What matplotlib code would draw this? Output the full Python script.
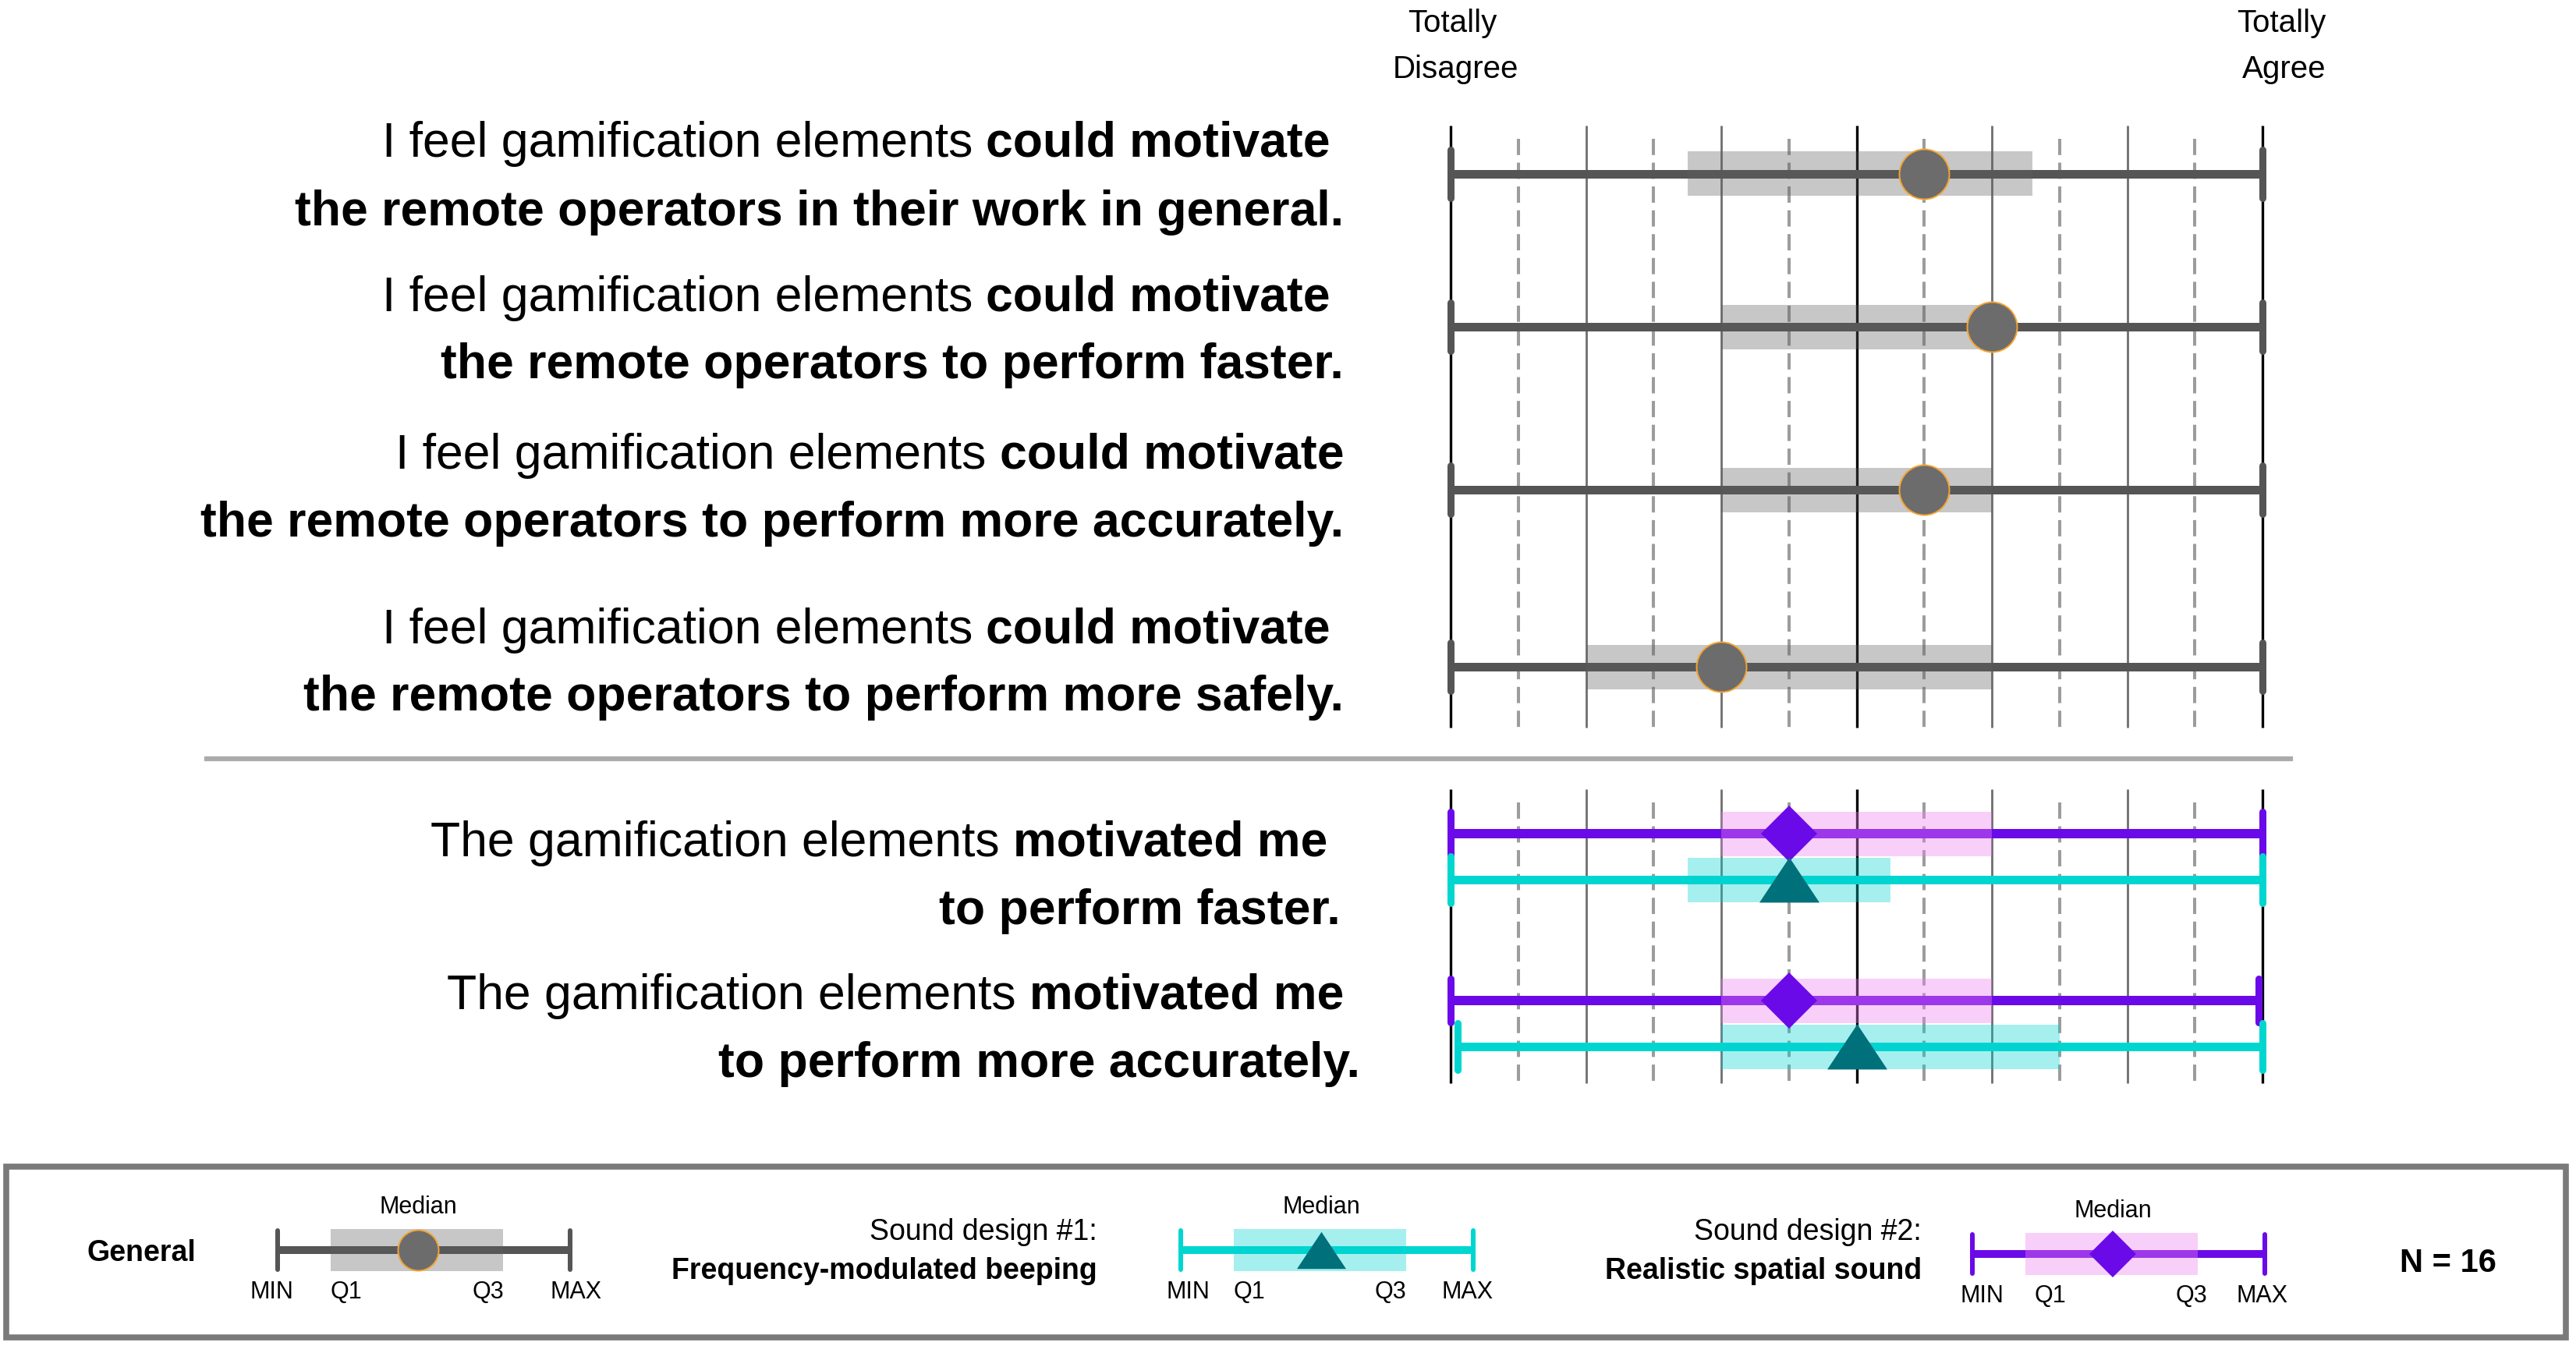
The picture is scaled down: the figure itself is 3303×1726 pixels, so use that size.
import matplotlib.pyplot as plt
from matplotlib.patches import Rectangle

plt.rcParams['font.family'] = ['Liberation Sans', 'DejaVu Sans']
plt.rcParams['lines.scale_dashes'] = False

# Likert answers, 1 = Totally Disagree ... 7 = Totally Agree (N = 16)
general_bold = 'could motivate'
general_normal = 'I feel gamification elements'
general_line2 = ['the remote operators in their work in general.',
                 'the remote operators to perform faster.',
                 'the remote operators to perform more accurately.',
                 'the remote operators to perform more safely.']
general_min = [1, 1, 1, 1]
general_q1 = [2.75, 3, 3, 2]
general_med = [4.5, 5, 4.5, 3]
general_q3 = [5.3, 5, 5, 5]
general_max = [7, 7, 7, 7]

sound_normal = 'The gamification elements'
sound_bold = 'motivated me'
sound_line2 = ['to perform faster.', 'to perform more accurately.']
# sound design #1 (frequency-modulated beeping)
sd1_min = [1, 1.05]
sd1_q1 = [2.75, 3]
sd1_med = [3.5, 4]
sd1_q3 = [4.25, 5.5]
sd1_max = [7, 7]
# sound design #2 (realistic spatial sound)
sd2_min = [1, 1]
sd2_q1 = [3, 3]
sd2_med = [3.5, 3.5]
sd2_q3 = [5, 5]
sd2_max = [7, 6.97]

# schematic box used in the legend (fractions of glyph width)
legend_five = [0, 0.18, 0.48, 0.77, 1]
legend_ticks = ['MIN', 'Q1', 'Q3', 'MAX']

# colours
GRAY_LINE = '#555555'
PURPLE = '#6a0ae8'
CYAN = '#00d6d0'
TEAL = '#00707a'

W, H = 3303, 1726
fig = plt.figure(figsize=(W / 100, H / 100), dpi=100)

# chart axes: x in Likert units, y in pixel rows
ax = fig.add_axes([0, 0, 1, 1])
x1_px, x7_px = 1860, 2901
k = 6 / (x7_px - x1_px)
ax.set_xlim(1 - x1_px * k, 7 + (W - x7_px) * k)
ax.set_ylim(H, 0)
ax.axis('off')

# overlay axes in pixel coords for text and legend
lax = fig.add_axes([0, 0, 1, 1])
lax.set_xlim(0, W)
lax.set_ylim(H, 0)
lax.axis('off')
lax.patch.set_alpha(0)

PX = 0.72  # points per pixel at 100 dpi

# grid
for top, bot in [(161, 933), (1012, 1389)]:
    for v in range(1, 8):
        if v in (1, 4, 7):
            ax.vlines(v, top, bot, color='black', lw=2.4, zorder=1)
        else:
            ax.vlines(v, top, bot, color='#6e6e6e', lw=2.0, zorder=1)
    for v in [1.5, 2.5, 3.5, 4.5, 5.5, 6.5]:
        ax.vlines(v, top + 17, bot, color='#9c9c9c', lw=2.9,
                  linestyles=(0, (15, 7)), zorder=1)

lax.plot([265, 2937], [973, 973], color='#ababab', lw=4.5)


def draw_box(a, y, mn, q1, med, q3, mx, line_c, box_c, box_a, marker,
             ms, mfc, mec, mew, cap_h, lw, box_h, cap_w=8):
    a.plot([mn, mx], [y, y], color=line_c, lw=lw, solid_capstyle='butt',
           zorder=3)
    # whisker caps (y axis is in pixels, so cap_h is a pixel height)
    a.vlines([mn, mx], y - cap_h / 2, y + cap_h / 2, color=line_c,
             lw=cap_w * PX, capstyle='round', zorder=3)
    a.barh(y, q3 - q1, left=q1, height=box_h, color=box_c, alpha=box_a,
           zorder=4)
    a.plot(med, y, marker=marker, ms=ms, mfc=mfc, mec=mec, mew=mew,
           ls='none', zorder=6)


tri = [(0, 0.5), (-0.665, -0.5), (0.665, -0.5)]

general_y = [223, 419, 628, 855]
for i, y in enumerate(general_y):
    draw_box(ax, y, general_min[i], general_q1[i], general_med[i],
             general_q3[i], general_max[i], GRAY_LINE, '#606060', 0.35,
             'o', 64 * PX, '#6c6c6c', '#f4a431', 1.4, 62, 11 * PX, 57,
             cap_w=9)

sd2_y = [1069, 1283]
sd1_y = [1128, 1342]
for i in range(2):
    draw_box(ax, sd2_y[i], sd2_min[i], sd2_q1[i], sd2_med[i], sd2_q3[i],
             sd2_max[i], PURPLE, '#ee82ee', 0.38, 'D', 51 * PX, PURPLE,
             PURPLE, 0, 56, 12 * PX, 57, cap_w=9)
    draw_box(ax, sd1_y[i], sd1_min[i], sd1_q1[i], sd1_med[i], sd1_q3[i],
             sd1_max[i], CYAN, '#00d2d2', 0.35, tri, 77 * PX, TEAL,
             TEAL, 0, 60, 11 * PX, 57, cap_w=9)

# scale end labels
fs_end = 29
lax.text(1862, 30, 'Totally', ha='center', va='center', fontsize=fs_end)
lax.text(1866, 89, 'Disagree', ha='center', va='center', fontsize=fs_end)
lax.text(2982, 30, 'Totally', ha='right', va='center', fontsize=fs_end)
lax.text(2982, 89, 'Agree', ha='right', va='center', fontsize=fs_end)

# question labels
renderer = fig.canvas.get_renderer()
FS = 45


def mixed_line(xr, y, normal, bold, size):
    tb = lax.text(xr, y, bold, ha='right', va='center', fontsize=size,
                  fontweight='bold')
    wb = tb.get_window_extent(renderer).width
    gap = 0.28 * size / PX
    lax.text(xr - wb - gap, y, normal, ha='right', va='center', fontsize=size)


gen_line1_right = [1706, 1706, 1723, 1706]
gen_line2_right = [1723, 1723, 1723, 1723]
gen_line1_y = [184, 382, 584, 808]
gen_line2_y = [272, 468, 671, 894]
for i in range(4):
    mixed_line(gen_line1_right[i], gen_line1_y[i], general_normal,
               general_bold, FS)
    lax.text(gen_line2_right[i], gen_line2_y[i], general_line2[i],
             ha='right', va='center', fontsize=FS, fontweight='bold')

snd_line1_right = [1702, 1723]
snd_line2_right = [1719, 1744]
snd_line1_y = [1081, 1277]
snd_line2_y = [1168, 1364]
for i in range(2):
    mixed_line(snd_line1_right[i], snd_line1_y[i], sound_normal, sound_bold,
               FS)
    lax.text(snd_line2_right[i], snd_line2_y[i], sound_line2[i],
             ha='right', va='center', fontsize=FS, fontweight='bold')

# legend
lax.add_patch(Rectangle((8, 1496), 3282, 219, fill=False, ec='#7a7a7a',
                        lw=5.5, zorder=2))

FSL = 27
FST = 22
lax.text(181, 1607, 'General', ha='center', va='center', fontsize=FSL,
         fontweight='bold')
lax.text(1407, 1580, 'Sound design #1:', ha='right', va='center', fontsize=FSL)
lax.text(1407, 1630, 'Frequency-modulated beeping', ha='right', va='center',
         fontsize=FSL, fontweight='bold')
lax.text(2464, 1580, 'Sound design #2:', ha='right', va='center', fontsize=FSL)
lax.text(2464, 1630, 'Realistic spatial sound', ha='right', va='center',
         fontsize=FSL, fontweight='bold')
lax.text(3139, 1620, 'N = 16', ha='center', va='center', fontsize=30,
         fontweight='bold')

glyph_x0 = [356, 1514, 2529]
glyph_y = [1603, 1603, 1608]
glyph_w = 375
tick_frac = [[-0.02, 0.234, 0.72, 1.02],
             [0.025, 0.235, 0.716, 0.98],
             [0.032, 0.267, 0.749, 0.99]]
glyph_style = [
    (GRAY_LINE, '#606060', 0.35, 'o', 52 * PX, '#6c6c6c', '#f4a431', 1.4),
    (CYAN, '#00d2d2', 0.35, tri, 63 * PX, TEAL, TEAL, 0),
    (PURPLE, '#ee82ee', 0.38, 'D', 43 * PX, PURPLE, PURPLE, 0),
]
for g in range(3):
    xs = [glyph_x0[g] + f * glyph_w for f in legend_five]
    lc, bc, ba, mk, ms, mfc, mec, mew = glyph_style[g]
    draw_box(lax, glyph_y[g], xs[0], xs[1], xs[2], xs[3], xs[4], lc, bc, ba,
             mk, ms, mfc, mec, mew, 50, 10 * PX, 54, cap_w=6)
    lax.text(xs[2], glyph_y[g] - 55, 'Median', ha='center', va='center',
             fontsize=FST)
    for t, f in zip(legend_ticks, tick_frac[g]):
        lax.text(glyph_x0[g] + f * glyph_w, glyph_y[g] + 54, t, ha='center',
                 va='center', fontsize=FST)

fig.savefig('out.png', dpi=100, facecolor='white')
